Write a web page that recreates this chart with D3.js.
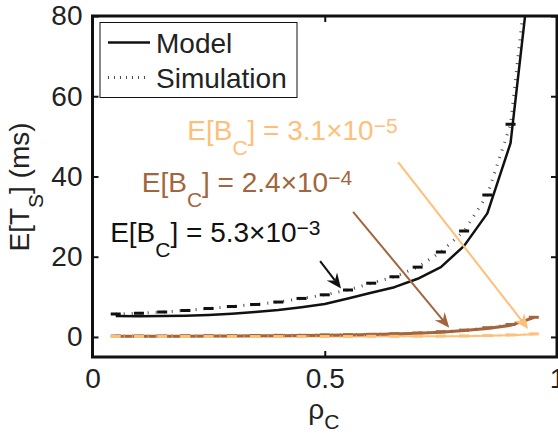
<!DOCTYPE html>
<html>
<head>
<meta charset="utf-8">
<script src="https://cdn.jsdelivr.net/npm/d3@7"></script>
<style>
  body { margin: 0; background: #fff; }
  svg { display: block; }
</style>
</head>
<body>
<div id="chart"></div>
<script>
// data
let rho = [0.05, 0.1, 0.15, 0.2, 0.25, 0.3, 0.35, 0.4, 0.45, 0.5,
           0.55, 0.6, 0.65, 0.7, 0.75, 0.8, 0.85, 0.9, 0.95];

// E[B_C] = 5.3e-3
let modelBlack = [5.2, 5.15, 5.2, 5.3, 5.5, 5.8, 6.2, 6.7, 7.4, 8.2,
                  9.6, 11.0, 12.4, 14.5, 17.4, 22.7, 30.8, 48.3, 99];
let simBlack = [5.7, 5.9, 6.2, 6.6, 7.1, 7.6, 8.1, 8.7, 9.6, 10.5,
                11.7, 13.4, 15.0, 17.4, 21.2, 26.4, 35.4, 53, 105];

// E[B_C] = 2.4e-4
let modelBrown = [0.2, 0.2, 0.2, 0.2, 0.25, 0.25, 0.3, 0.3, 0.35, 0.4,
                  0.5, 0.6, 0.75, 0.9, 1.2, 1.6, 2.1, 2.9, 4.8];
let simBrown = [0.25, 0.25, 0.25, 0.3, 0.3, 0.3, 0.35, 0.4, 0.4, 0.5,
                0.55, 0.65, 0.8, 1.0, 1.3, 1.7, 2.3, 3.1, 4.9];

// E[B_C] = 3.1e-5
let modelOrange = [0.1, 0.1, 0.1, 0.1, 0.1, 0.1, 0.1, 0.1, 0.1, 0.1,
                   0.1, 0.15, 0.15, 0.15, 0.2, 0.2, 0.3, 0.45, 0.7];
let simOrange = [0.1, 0.1, 0.1, 0.1, 0.1, 0.1, 0.1, 0.1, 0.1, 0.1,
                 0.1, 0.15, 0.15, 0.2, 0.2, 0.25, 0.35, 0.5, 0.75];

let xTicks = [0, 0.5, 1];
let yTicks = [0, 20, 40, 60, 80];

let black = "#111";
let brown = "#a2653c";
let orange = "#ffbf78";

let w = 558;
let h = 435;
let font = "'Liberation Sans', Arial, sans-serif";

let svg = d3.select("#chart")
  .append("svg")
  .attr("width", w)
  .attr("height", h)
  .style("background-color", "white");

let x = d3.scaleLinear().domain([0, 1]).range([92.5, 557]);
let y = d3.scaleLinear().domain([-5, 80]).range([357, 16]);

svg.append("clipPath").attr("id", "plot")
  .append("rect")
  .attr("x", x(0)).attr("y", y(80))
  .attr("width", x(1) - x(0)).attr("height", y(-5) - y(80));

let plot = svg.append("g").attr("clip-path", "url(#plot)");

function pts(vals) {
  return rho.map((r, i) => [r, vals[i]]);
}

let line = d3.line().x(d => x(d[0])).y(d => y(d[1]));

function drawModel(vals, color, width) {
  plot.append("path")
    .attr("d", line(pts(vals)))
    .attr("fill", "none")
    .attr("stroke", color)
    .attr("stroke-width", width)
    .attr("stroke-linejoin", "round");
}

function drawSim(vals, color) {
  plot.append("path")
    .attr("d", line(pts(vals)))
    .attr("fill", "none")
    .attr("stroke", color)
    .attr("stroke-opacity", 0.75)
    .attr("stroke-width", 3)
    .attr("stroke-dasharray", "1,7");
  // caps at each simulated point
  plot.selectAll(null)
    .data(pts(vals))
    .enter()
    .append("line")
    .attr("x1", d => x(d[0]) - 5)
    .attr("x2", d => x(d[0]) + 5)
    .attr("y1", d => y(d[1]))
    .attr("y2", d => y(d[1]))
    .attr("stroke", color)
    .attr("stroke-width", 3);
}

drawModel(modelBlack, black, 2.5);
drawSim(simBlack, black);
drawModel(modelOrange, orange, 2);
drawModel(modelBrown, brown, 3);
drawSim(simBrown, brown);
drawSim(simOrange, orange);

// annotations (data coordinates)
let arrows = [
  {x1: 0.658, y1: 43.6, x2: 0.938, y2: 2.0, color: orange},
  {x1: 0.561, y1: 31.2, x2: 0.768, y2: 2.3, color: brown},
  {x1: 0.49, y1: 18.9, x2: 0.535, y2: 12.1, color: black}
];

arrows.forEach(function(a) {
  let x1 = x(a.x1), y1 = y(a.y1), x2 = x(a.x2), y2 = y(a.y2);
  let ang = Math.atan2(y2 - y1, x2 - x1);
  let ux = Math.cos(ang), uy = Math.sin(ang);
  let px = -uy, py = ux;
  let L = 15, W = 6.5, N = 10;
  let bx = x2 - ux * L, by = y2 - uy * L;
  svg.append("line")
    .attr("x1", x1).attr("y1", y1)
    .attr("x2", x2 - ux * N).attr("y2", y2 - uy * N)
    .attr("stroke", a.color)
    .attr("stroke-width", 2);
  svg.append("path")
    .attr("d", "M" + x2 + "," + y2 +
      "L" + (bx + px * W) + "," + (by + py * W) +
      "L" + (x2 - ux * N) + "," + (y2 - uy * N) +
      "L" + (bx - px * W) + "," + (by - py * W) + "Z")
    .attr("fill", a.color);
});

let labels = [
  {x: 0.204, y: 49.1, val: "3.1", exp: "\u22125", color: orange},
  {x: 0.106, y: 36.2, val: "2.4", exp: "\u22124", color: brown},
  {x: 0.038, y: 23.6, val: "5.3", exp: "\u22123", color: black}
];

labels.forEach(function(l) {
  let t = svg.append("text")
    .attr("x", x(l.x))
    .attr("y", y(l.y))
    .attr("fill", l.color)
    .attr("font-family", font)
    .attr("font-size", 28);
  t.append("tspan").text("E[B");
  t.append("tspan").attr("dy", 15).attr("font-size", 21).text("C");
  t.append("tspan").attr("dy", -15).text("] = " + l.val + "\u00d710");
  t.append("tspan").attr("dy", -7).attr("font-size", 21).text(l.exp);
});

// axes
let axLeft = svg.append("g")
  .attr("transform", "translate(" + x(0) + ",0)")
  .call(d3.axisLeft(y).tickValues(yTicks).tickSize(-6).tickPadding(10));
let axRight = svg.append("g")
  .attr("transform", "translate(" + x(1) + ",0)")
  .call(d3.axisRight(y).tickValues(yTicks).tickSize(-6).tickFormat(""));
let axBottom = svg.append("g")
  .attr("transform", "translate(0," + y(-5) + ")")
  .call(d3.axisBottom(x).tickValues(xTicks).tickSize(-6).tickPadding(11)
    .tickFormat(d => d));
let axTop = svg.append("g")
  .attr("transform", "translate(0," + y(80) + ")")
  .call(d3.axisTop(x).tickValues(xTicks).tickSize(-6).tickFormat(""));

[axLeft, axRight, axBottom, axTop].forEach(function(g) {
  g.select(".domain").remove();
  g.selectAll(".tick line").attr("stroke", black).attr("stroke-width", 2);
  g.selectAll("text")
    .attr("font-family", font)
    .attr("font-size", 28)
    .attr("fill", "#222");
});

// frame
svg.append("rect")
  .attr("x", x(0)).attr("y", y(80))
  .attr("width", x(1) - x(0)).attr("height", y(-5) - y(80))
  .attr("fill", "none")
  .attr("stroke", black)
  .attr("stroke-width", 3);

// legend
svg.append("rect")
  .attr("x", 100).attr("y", 22.5)
  .attr("width", 197).attr("height", 75)
  .attr("fill", "white")
  .attr("stroke", black)
  .attr("stroke-width", 1);
svg.append("line")
  .attr("x1", 108).attr("x2", 150).attr("y1", 42.5).attr("y2", 42.5)
  .attr("stroke", black).attr("stroke-width", 2.5);
svg.append("line")
  .attr("x1", 108).attr("x2", 150).attr("y1", 77.5).attr("y2", 77.5)
  .attr("stroke", black).attr("stroke-opacity", 0.75)
  .attr("stroke-width", 3).attr("stroke-dasharray", "1,5");
svg.append("text")
  .text("Model")
  .attr("x", 156).attr("y", 53)
  .attr("font-family", font).attr("font-size", 28).attr("fill", "#222");
svg.append("text")
  .text("Simulation")
  .attr("x", 156).attr("y", 87.5)
  .attr("font-family", font).attr("font-size", 28).attr("fill", "#222");

// axis titles
let yl = svg.append("text")
  .attr("transform", "translate(29,187) rotate(-90)")
  .attr("text-anchor", "middle")
  .attr("font-family", font).attr("font-size", 28).attr("fill", "#222");
yl.append("tspan").text("E[T");
yl.append("tspan").attr("dy", 14).attr("font-size", 21).text("S");
yl.append("tspan").attr("dy", -14).text("] (ms)");

let xl = svg.append("text")
  .attr("x", x(0.5) - 1).attr("y", 419)
  .attr("text-anchor", "middle")
  .attr("font-family", font).attr("font-size", 28).attr("fill", "#222");
xl.append("tspan").text("\u03c1");
xl.append("tspan").attr("dy", 10).attr("font-size", 21).text("C");
</script>
</body>
</html>
